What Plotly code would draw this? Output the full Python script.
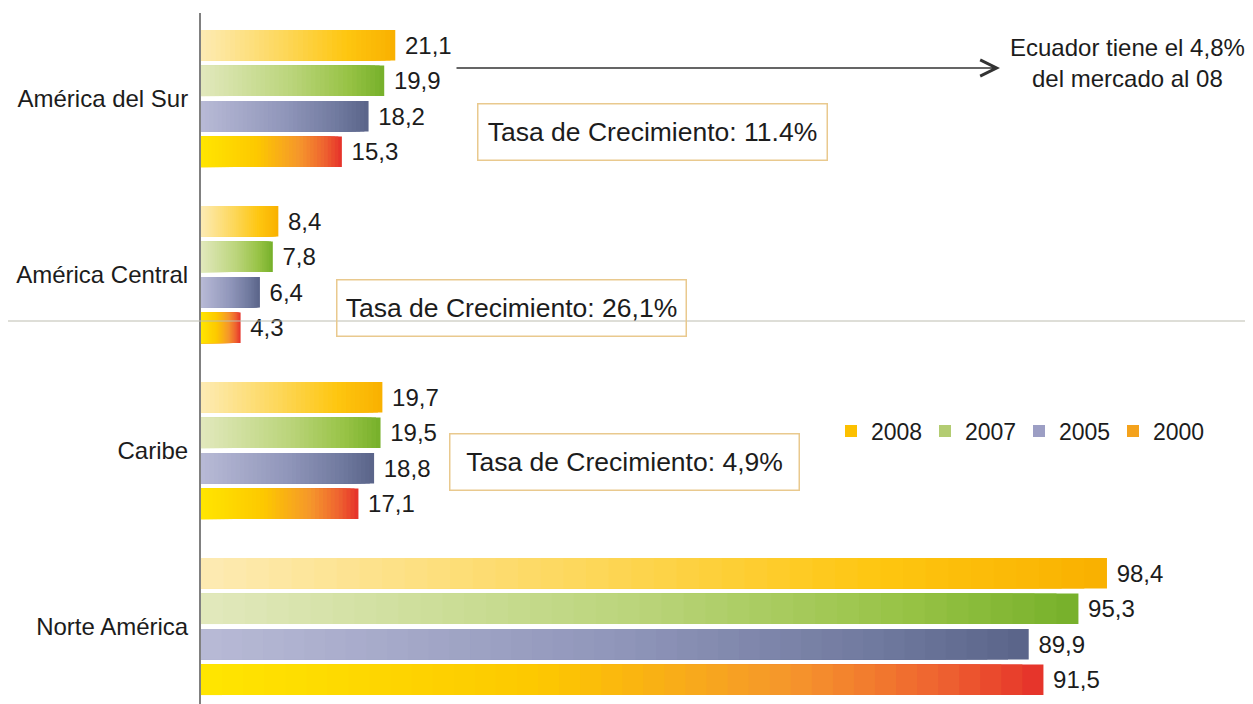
import numpy as np
import plotly.graph_objects as go

# ---------------- data ----------------
regions = ["América del Sur", "América Central", "Caribe", "Norte América"]
years = ["2008", "2007", "2005", "2000"]
v2008 = [21.1, 8.4, 19.7, 98.4]
v2007 = [19.9, 7.8, 19.5, 95.3]
v2005 = [18.2, 6.4, 18.8, 89.9]
v2000 = [15.3, 4.3, 17.1, 91.5]
growth_rates = ["11.4%", "26,1%", "4,9%"]
note_lines = ["Ecuador tiene el 4,8%", "del mercado al 08"]

series = dict(zip(years, [v2008, v2007, v2005, v2000]))

# ---------------- styling ----------------
FONT = "Liberation Sans, Arial, Helvetica, sans-serif"
TXT = "#1c1c1c"
gradients = {
    "2008": [(0.0, "#fdebb4"), (0.45, "#fdd655"), (0.75, "#fec610"), (1.0, "#f9b000")],
    "2007": [(0.0, "#e2e9bd"), (0.5, "#bad47a"), (0.8, "#98c346"), (1.0, "#76b02a")],
    "2005": [(0.0, "#b8bad6"), (0.5, "#9096ba"), (0.8, "#727ba0"), (1.0, "#596489")],
    "2000": [(0.0, "#ffe600"), (0.4, "#fdc800"), (0.7, "#f5962c"), (0.88, "#ee6230"), (1.0, "#e5302a")],
}
legend_colors = {"2008": "#fcc000", "2007": "#b3cc72", "2005": "#9c9ec4", "2000": "#f4a21c"}
N_SEG = 40


def hex2rgb(h):
    h = h.lstrip("#")
    return np.array([int(h[i:i + 2], 16) for i in (0, 2, 4)], dtype=float)


def color_at(stops, t):
    for (t0, c0), (t1, c1) in zip(stops[:-1], stops[1:]):
        if t <= t1:
            f = 0 if t1 == t0 else (t - t0) / (t1 - t0)
            c = hex2rgb(c0) * (1 - f) + hex2rgb(c1) * f
            return "rgb(%d,%d,%d)" % tuple(np.round(c))
    return stops[-1][1]


fig = go.Figure()
for yr in years:
    vals = np.array(series[yr])
    # legend-only entry
    fig.add_trace(go.Bar(
        y=regions, x=[None] * len(regions), orientation="h", name=yr,
        marker=dict(color=legend_colors[yr], line=dict(width=0)),
        offsetgroup=yr, legendgroup=yr, showlegend=True, hoverinfo="skip",
    ))
    # gradient: overlaid bars of decreasing length, longest (darkest end) first
    for k in range(N_SEG):
        frac = (N_SEG - k) / N_SEG
        t = (N_SEG - k - 0.5) / N_SEG
        first = k == 0
        fig.add_trace(go.Bar(
            y=regions, x=vals * frac, orientation="h", name=yr,
            marker=dict(color=color_at(gradients[yr], t), line=dict(width=0)),
            offsetgroup=yr, legendgroup=yr, showlegend=False, hoverinfo="skip",
            texttemplate="\u00a0%{x:.1f}" if first else None,
            textposition="outside" if first else "none",
            textfont=dict(family=FONT, size=24, color=TXT),
            constraintext="none", cliponaxis=False,
        ))

# ---------------- layout geometry ----------------
OFF = 8                      # page body margin offset
W, H = 1253 - OFF, 704 - OFF
ML, MT = 201 - OFF, 13 - OFF
PW, PH = W - ML, H - MT


def px(x):   # page pixel -> paper x
    return (x - OFF - ML) / PW


def py(y):   # page pixel -> paper y
    return 1 - (y - OFF - MT) / PH


annotations = []
box_centers = [(652, 131.5), (511, 308), (624, 462.5)]
for rate, (cx, cy) in zip(growth_rates, box_centers):
    annotations.append(dict(
        text="Tasa de Crecimiento: " + rate, xref="paper", yref="paper",
        x=px(cx), y=py(cy), xanchor="center", yanchor="middle", showarrow=False,
        font=dict(family=FONT, size=26.5, color=TXT),
        bordercolor="#e9c98e", borderwidth=1.5, borderpad=6, width=336, height=43,
        bgcolor="rgba(255,255,255,0)",
    ))
annotations.append(dict(
    text="<br>".join(note_lines), xref="paper", yref="paper",
    x=px(1127), y=py(63), xanchor="center", yanchor="middle", showarrow=False,
    align="center", font=dict(family=FONT, size=24, color=TXT),
))
annotations.append(dict(
    text="", xref="paper", yref="paper", x=px(1000), y=py(68),
    ax=-(1000 - 455), ay=0, axref="pixel", ayref="pixel",
    showarrow=True, arrowhead=5, arrowsize=2, arrowwidth=1.6, arrowcolor="#333333",
    standoff=0,
))

shapes = [
    dict(type="line", xref="paper", yref="paper", x0=px(OFF), x1=1, y0=py(321), y1=py(321),
         line=dict(color="#bdbdb0", width=1), layer="above"),
]

fig.update_layout(
    width=W, height=H,
    margin=dict(l=ML, r=0, t=MT, b=0, pad=0),
    paper_bgcolor="white", plot_bgcolor="white",
    barmode="group", bargap=0.193, bargroupgap=0.14,
    separators=",.",
    font=dict(family=FONT, size=24, color=TXT),
    xaxis=dict(range=[0, PW / 9.207], visible=False, showgrid=False, zeroline=False),
    yaxis=dict(type="category", categoryorder="array", categoryarray=regions,
               range=[3.44, -0.486], showline=True, linecolor="#808080", linewidth=2,
               ticks="", ticklabelstandoff=6, showgrid=False, zeroline=False,
               tickfont=dict(family=FONT, size=24, color=TXT)),
    legend=dict(orientation="h", x=px(831), y=py(431), xanchor="left", yanchor="middle",
                font=dict(family=FONT, size=23, color=TXT), bgcolor="rgba(0,0,0,0)",
                traceorder="normal", entrywidth=49),
    annotations=annotations, shapes=shapes,
)

fig.write_html("out.html")
